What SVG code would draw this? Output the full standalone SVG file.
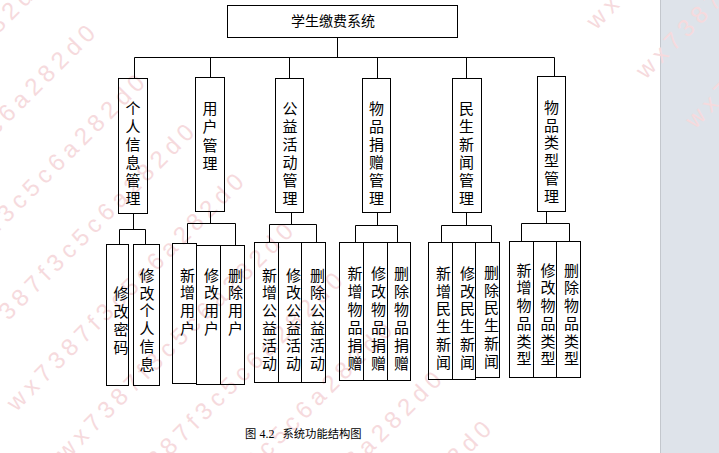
<svg xmlns="http://www.w3.org/2000/svg" width="719" height="453" viewBox="0 0 719 453">
<style>
.box{fill:none;stroke:#000;stroke-width:1}
.conn path{fill:none;stroke:#000;stroke-width:1}
.t{font-family:"Noto Sans CJK SC","Noto Sans CJK JP",sans-serif;font-size:15px;fill:#000;text-anchor:middle}
.root{font-family:"Noto Sans CJK SC","Noto Sans CJK JP",sans-serif;font-size:14px;fill:#000}
.cap{font-family:"Noto Sans CJK SC","Noto Sans CJK JP",sans-serif;font-size:11.3px;fill:#000}
.num{font-family:"Liberation Serif",serif;font-size:12px}
.wm{font-family:"Liberation Sans",sans-serif;font-size:24px;letter-spacing:5.3px;fill:#f6dadd}
</style>
<rect x="0" y="0" width="719" height="453" fill="#fff"/>
<rect x="660" y="0" width="59" height="453" fill="#dee3ea"/>
<line x1="660.5" y1="0" x2="660.5" y2="453" stroke="#c3c7cd" stroke-width="1"/>
<g id="watermark" transform="rotate(-45)">
<text class="wm" x="-280" y="23">wx7387f3c5c6a282d0</text>
<text class="wm" x="-280" y="93">wx7387f3c5c6a282d0</text>
<text class="wm" x="-280" y="163">wx7387f3c5c6a282d0</text>
<text class="wm" x="-280" y="233">wx7387f3c5c6a282d0</text>
<text class="wm" x="-280" y="303">wx7387f3c5c6a282d0</text>
<text class="wm" x="-280" y="373">wx7387f3c5c6a282d0</text>
<text class="wm" x="-280" y="443">wx7387f3c5c6a282d0</text>
<text class="wm" x="-280" y="513">wx7387f3c5c6a282d0</text>
<text class="wm" x="-280" y="583">wx7387f3c5c6a282d0</text>
<text class="wm" x="-280" y="653">wx7387f3c5c6a282d0</text>
<text class="wm" x="400" y="443">wx7387f3c5c6a282d0</text>
<text class="wm" x="400" y="513">wx7387f3c5c6a282d0</text>
<text class="wm" x="400" y="583">wx7387f3c5c6a282d0</text>
</g>
<g id="connectors" class="conn">
<path d="M337.5 37.5V57.5M134.5 57.5H554.5"/>
<path d="M134.5 57.5V78.5M210.5 57.5V77.5M289.5 57.5V78.5M377.5 57.5V78.5M466.5 57.5V78.5M554.5 57.5V76.5"/>
<path d="M133.5 213.5V229.5M119.5 244.5V229.5H145.5V244.5"/>
<path d="M210.5 211.5V223.5M187.5 243.5V223.5H235.5V245.5"/>
<path d="M291.5 212.5V224.5M269.5 242.5V224.5H316.5V242.5"/>
<path d="M377.5 212.5V225.5M355.5 242.5V225.5H397.5V242.5"/>
<path d="M466.5 212.5V225.5M441.5 242.5V225.5H491.5V242.5"/>
<path d="M546.5 211.5V223.5M521.5 241.5V223.5H569.5V241.5"/>
</g>
<g id="n-root"><rect class="box" x="227.5" y="5.5" width="230" height="32"/><text class="root" x="291" y="25.5">学生缴费系统</text></g>
<g id="n-personal"><rect class="box" x="118.5" y="78.5" width="29" height="135"/>
<text class="t"><tspan x="133" y="113.7">个</tspan><tspan x="133" y="131.7">人</tspan><tspan x="133" y="149.7">信</tspan><tspan x="133" y="167.7">息</tspan><tspan x="133" y="185.7">管</tspan><tspan x="133" y="203.7">理</tspan></text></g>
<g id="n-user"><rect class="box" x="195.5" y="77.5" width="29" height="134"/>
<text class="t"><tspan x="210" y="114">用</tspan><tspan x="210" y="132">户</tspan><tspan x="210" y="150.5">管</tspan><tspan x="210" y="168.5">理</tspan></text></g>
<g id="n-charity"><rect class="box" x="275.5" y="78.5" width="28" height="134"/>
<text class="t"><tspan x="290" y="113.7">公</tspan><tspan x="290" y="131.7">益</tspan><tspan x="290" y="149.7">活</tspan><tspan x="290" y="167.7">动</tspan><tspan x="290" y="185.7">管</tspan><tspan x="290" y="203.7">理</tspan></text></g>
<g id="n-donation"><rect class="box" x="362.5" y="78.5" width="28" height="134"/>
<text class="t"><tspan x="376.5" y="113.7">物</tspan><tspan x="376.5" y="131.7">品</tspan><tspan x="376.5" y="149.7">捐</tspan><tspan x="376.5" y="167.7">赠</tspan><tspan x="376.5" y="185.7">管</tspan><tspan x="376.5" y="203.7">理</tspan></text></g>
<g id="n-news"><rect class="box" x="452.5" y="78.5" width="29" height="134"/>
<text class="t"><tspan x="466.5" y="113.7">民</tspan><tspan x="466.5" y="131.7">生</tspan><tspan x="466.5" y="149.7">新</tspan><tspan x="466.5" y="167.7">闻</tspan><tspan x="466.5" y="185.7">管</tspan><tspan x="466.5" y="203.7">理</tspan></text></g>
<g id="n-category"><rect class="box" x="537.5" y="76.5" width="28" height="135"/>
<text class="t"><tspan x="551.5" y="112.7">物</tspan><tspan x="551.5" y="130.5">品</tspan><tspan x="551.5" y="148.3">类</tspan><tspan x="551.5" y="166.1">型</tspan><tspan x="551.5" y="183.9">管</tspan><tspan x="551.5" y="201.7">理</tspan></text></g>
<g id="n-pwd"><rect class="box" x="106.5" y="244.5" width="22" height="141"/>
<text class="t"><tspan x="121" y="298.7">修</tspan><tspan x="121" y="316.7">改</tspan><tspan x="121" y="334.7">密</tspan><tspan x="121" y="352.7">码</tspan></text></g>
<g id="n-profile"><rect class="box" x="133.5" y="244.5" width="26" height="141"/>
<text class="t"><tspan x="147" y="280.7">修</tspan><tspan x="147" y="298.5">改</tspan><tspan x="147" y="316.3">个</tspan><tspan x="147" y="334.1">人</tspan><tspan x="147" y="351.9">信</tspan><tspan x="147" y="369.7">息</tspan></text></g>
<g id="n-user-add"><rect class="box" x="172.5" y="243.5" width="24" height="140"/>
<text class="t"><tspan x="187.5" y="280.7">新</tspan><tspan x="187.5" y="298.4">增</tspan><tspan x="187.5" y="316.1">用</tspan><tspan x="187.5" y="333.8">户</tspan></text></g>
<g id="n-user-edit"><rect class="box" x="196.5" y="245.5" width="24" height="139"/>
<text class="t"><tspan x="211.5" y="280.7">修</tspan><tspan x="211.5" y="298.4">改</tspan><tspan x="211.5" y="316.1">用</tspan><tspan x="211.5" y="333.8">户</tspan></text></g>
<g id="n-user-del"><rect class="box" x="220.5" y="245.5" width="24" height="139"/>
<text class="t"><tspan x="235.5" y="280.7">删</tspan><tspan x="235.5" y="298.4">除</tspan><tspan x="235.5" y="316.1">用</tspan><tspan x="235.5" y="333.8">户</tspan></text></g>
<g id="n-charity-add"><rect class="box" x="254.5" y="242.5" width="24" height="140"/>
<text class="t"><tspan x="269.5" y="280.7">新</tspan><tspan x="269.5" y="298.3">增</tspan><tspan x="269.5" y="315.9">公</tspan><tspan x="269.5" y="333.5">益</tspan><tspan x="269.5" y="351.1">活</tspan><tspan x="269.5" y="368.7">动</tspan></text></g>
<g id="n-charity-edit"><rect class="box" x="278.5" y="242.5" width="23" height="140"/>
<text class="t"><tspan x="293.5" y="280.7">修</tspan><tspan x="293.5" y="298.3">改</tspan><tspan x="293.5" y="315.9">公</tspan><tspan x="293.5" y="333.5">益</tspan><tspan x="293.5" y="351.1">活</tspan><tspan x="293.5" y="368.7">动</tspan></text></g>
<g id="n-charity-del"><rect class="box" x="301.5" y="242.5" width="24" height="140"/>
<text class="t"><tspan x="317.5" y="280.7">删</tspan><tspan x="317.5" y="298.3">除</tspan><tspan x="317.5" y="315.9">公</tspan><tspan x="317.5" y="333.5">益</tspan><tspan x="317.5" y="351.1">活</tspan><tspan x="317.5" y="368.7">动</tspan></text></g>
<g id="n-donation-add"><rect class="box" x="339.5" y="242.5" width="24" height="138"/>
<text class="t"><tspan x="355" y="279">新</tspan><tspan x="355" y="297">增</tspan><tspan x="355" y="315">物</tspan><tspan x="355" y="333">品</tspan><tspan x="355" y="351">捐</tspan><tspan x="355" y="369">赠</tspan></text></g>
<g id="n-donation-edit"><rect class="box" x="363.5" y="242.5" width="24" height="138"/>
<text class="t"><tspan x="378.5" y="279">修</tspan><tspan x="378.5" y="297">改</tspan><tspan x="378.5" y="315">物</tspan><tspan x="378.5" y="333">品</tspan><tspan x="378.5" y="351">捐</tspan><tspan x="378.5" y="369">赠</tspan></text></g>
<g id="n-donation-del"><rect class="box" x="387.5" y="242.5" width="23" height="138"/>
<text class="t"><tspan x="401.5" y="279">删</tspan><tspan x="401.5" y="297">除</tspan><tspan x="401.5" y="315">物</tspan><tspan x="401.5" y="333">品</tspan><tspan x="401.5" y="351">捐</tspan><tspan x="401.5" y="369">赠</tspan></text></g>
<g id="n-news-add"><rect class="box" x="428.5" y="242.5" width="24" height="137"/>
<text class="t"><tspan x="443.5" y="279">新</tspan><tspan x="443.5" y="296.7">增</tspan><tspan x="443.5" y="314.4">民</tspan><tspan x="443.5" y="332.1">生</tspan><tspan x="443.5" y="349.8">新</tspan><tspan x="443.5" y="367.5">闻</tspan></text></g>
<g id="n-news-edit"><rect class="box" x="452.5" y="242.5" width="23" height="137"/>
<text class="t"><tspan x="467.5" y="279">修</tspan><tspan x="467.5" y="296.7">改</tspan><tspan x="467.5" y="314.4">民</tspan><tspan x="467.5" y="332.1">生</tspan><tspan x="467.5" y="349.8">新</tspan><tspan x="467.5" y="367.5">闻</tspan></text></g>
<g id="n-news-del"><rect class="box" x="475.5" y="242.5" width="24" height="135"/>
<text class="t"><tspan x="491.5" y="278">删</tspan><tspan x="491.5" y="295.7">除</tspan><tspan x="491.5" y="313.4">民</tspan><tspan x="491.5" y="331.1">生</tspan><tspan x="491.5" y="348.8">新</tspan><tspan x="491.5" y="366.5">闻</tspan></text></g>
<g id="n-cat-add"><rect class="box" x="509.5" y="241.5" width="24" height="136"/>
<text class="t"><tspan x="524" y="275.7">新</tspan><tspan x="524" y="293.4">增</tspan><tspan x="524" y="311.1">物</tspan><tspan x="524" y="328.8">品</tspan><tspan x="524" y="346.5">类</tspan><tspan x="524" y="364.2">型</tspan></text></g>
<g id="n-cat-edit"><rect class="box" x="533.5" y="241.5" width="23" height="136"/>
<text class="t"><tspan x="548" y="275.7">修</tspan><tspan x="548" y="293.4">改</tspan><tspan x="548" y="311.1">物</tspan><tspan x="548" y="328.8">品</tspan><tspan x="548" y="346.5">类</tspan><tspan x="548" y="364.2">型</tspan></text></g>
<g id="n-cat-del"><rect class="box" x="556.5" y="241.5" width="24" height="136"/>
<text class="t"><tspan x="571.5" y="275.7">删</tspan><tspan x="571.5" y="293.4">除</tspan><tspan x="571.5" y="311.1">物</tspan><tspan x="571.5" y="328.8">品</tspan><tspan x="571.5" y="346.5">类</tspan><tspan x="571.5" y="364.2">型</tspan></text></g>
<text class="cap" y="438"><tspan x="245">图</tspan><tspan class="num" x="259.5">4.2</tspan><tspan x="282.5">系统功能结构图</tspan></text>
</svg>
